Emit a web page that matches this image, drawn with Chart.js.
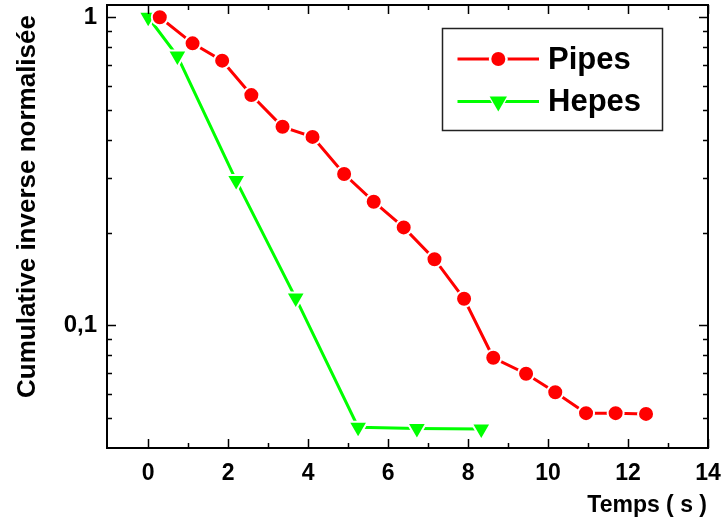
<!DOCTYPE html>
<html>
<head>
<meta charset="utf-8">
<script src="https://cdn.jsdelivr.net/npm/chart.js@4.4.1/dist/chart.umd.min.js"></script>
<style>
html,body{margin:0;padding:0;background:#fff;}
canvas{display:block;}
</style>
</head>
<body>
<canvas id="c" width="724" height="525"></canvas>
<script>
// ---- data ----
const pipesX = [0.29, 1.11, 1.85, 2.58, 3.36, 4.11, 4.9, 5.64, 6.39, 7.16, 7.9, 8.63, 9.45, 10.18, 10.95, 11.69, 12.45];
const pipesY = [1.0, 0.823, 0.723, 0.559, 0.441, 0.409, 0.31, 0.252, 0.208, 0.164, 0.122, 0.0785, 0.0697, 0.0607, 0.0519, 0.0519, 0.0516];
const hepesX = [0.0, 0.73, 2.2, 3.69, 5.25, 6.72, 8.33];
const hepesY = [1.0, 0.748, 0.295, 0.1226, 0.0467, 0.0463, 0.0461];
const xTicks = [0, 2, 4, 6, 8, 10, 12, 14];
const xMinorTicks = [1, 3, 5, 7, 9, 11, 13];
const yTicks = [0.1, 1];
const yMinorTicks = [0.05, 0.06, 0.07, 0.08, 0.09, 0.2, 0.3, 0.4, 0.5, 0.6, 0.7, 0.8, 0.9];
const seriesNames = ['Pipes', 'Hepes'];
const xTitle = 'Temps ( s )';
const yTitle = 'Cumulative inverse normalisée';

const FONT = '"Liberation Sans", Arial, sans-serif';

const toPts = (xs, ys) => xs.map((x, i) => ({x: x, y: ys[i]}));

const framePlugin = {
  id: 'frame',
  afterDraw(chart) {
    const ctx = chart.ctx;
    const a = chart.chartArea;
    const xs = chart.scales.x, ys = chart.scales.y;
    ctx.save();
    ctx.strokeStyle = '#000';
    ctx.lineWidth = 2;
    ctx.strokeRect(a.left, a.top, a.right - a.left, a.bottom - a.top);
    ctx.lineWidth = 1.5;
    const tick = (vals, len, horiz) => {
      vals.forEach(v => {
        if (horiz) {
          const px = Math.round(xs.getPixelForValue(v)) + 0.5;
          ctx.beginPath();
          ctx.moveTo(px, a.bottom); ctx.lineTo(px, a.bottom - len);
          ctx.moveTo(px, a.top); ctx.lineTo(px, a.top + len);
          ctx.stroke();
        } else {
          const py = Math.round(ys.getPixelForValue(v)) + 0.5;
          ctx.beginPath();
          ctx.moveTo(a.left, py); ctx.lineTo(a.left + len, py);
          ctx.moveTo(a.right, py); ctx.lineTo(a.right - len, py);
          ctx.stroke();
        }
      });
    };
    tick(xTicks, 9, true);
    tick(xMinorTicks, 5, true);
    tick(yTicks, 9, false);
    tick(yMinorTicks, 5, false);

    // axis titles
    ctx.fillStyle = '#000';
    ctx.font = 'bold 23px ' + FONT;
    ctx.textAlign = 'right';
    ctx.textBaseline = 'alphabetic';
    ctx.fillText(xTitle, 707, 512);

    ctx.save();
    ctx.translate(35, 206.5);
    ctx.rotate(-Math.PI / 2);
    ctx.font = 'bold 26px ' + FONT;
    ctx.textAlign = 'center';
    ctx.fillText(yTitle, 0, 0);
    ctx.restore();

    // legend
    const bx = 442.5, by = 28.5, bw = 220, bh = 102;
    ctx.fillStyle = '#fff';
    ctx.fillRect(bx, by, bw, bh);
    ctx.strokeStyle = '#222';
    ctx.lineWidth = 1.5;
    ctx.strokeRect(bx, by, bw, bh);
    const rowsY = [59, 101.5];
    chart.data.datasets.forEach((ds, i) => {
      const y = rowsY[i];
      ctx.strokeStyle = ds.borderColor;
      ctx.lineWidth = 3;
      ctx.beginPath();
      ctx.moveTo(457.5, y); ctx.lineTo(539, y);
      ctx.stroke();
      ctx.fillStyle = '#fff';
      Chart.helpers.drawPoint(ctx, {
        pointStyle: ds.pointStyle, rotation: ds.pointRotation || 0,
        radius: ds.pointRadius + 1.5, borderWidth: 0
      }, 498.3, y);
      ctx.fillStyle = ds.pointBackgroundColor;
      ctx.strokeStyle = ds.pointBackgroundColor;
      Chart.helpers.drawPoint(ctx, {
        pointStyle: ds.pointStyle, rotation: ds.pointRotation || 0,
        radius: ds.pointRadius - 1, borderWidth: 0
      }, 498.3, y);
      ctx.fillStyle = '#000';
      ctx.font = 'bold 31px ' + FONT;
      ctx.textAlign = 'left';
      ctx.textBaseline = 'middle';
      ctx.fillText(seriesNames[i], 548, y + 1);
    });
    ctx.restore();
  }
};

new Chart(document.getElementById('c'), {
  type: 'line',
  data: {
    datasets: [
      {
        label: seriesNames[0],
        data: toPts(pipesX, pipesY),
        borderColor: '#ff0000',
        borderWidth: 3,
        pointStyle: 'circle',
        pointRadius: 8,
        pointBackgroundColor: '#ff0000',
        pointBorderColor: '#ffffff',
        pointBorderWidth: 2,
        pointHoverRadius: 8,
        tension: 0,
        fill: false,
        clip: false
      },
      {
        label: seriesNames[1],
        data: toPts(hepesX, hepesY),
        borderColor: '#00ff00',
        borderWidth: 3,
        pointStyle: 'triangle',
        pointRotation: 180,
        pointRadius: 11,
        pointBackgroundColor: '#00ff00',
        pointBorderColor: '#ffffff',
        pointBorderWidth: 2,
        pointHoverRadius: 11,
        tension: 0,
        fill: false,
        clip: false
      }
    ]
  },
  options: {
    responsive: false,
    animation: false,
    devicePixelRatio: 1,
    layout: {autoPadding: false, padding: {top: 5, right: 16, left: 0, bottom: 0}},
    plugins: {legend: {display: false}, tooltip: {enabled: false}},
    scales: {
      x: {
        type: 'linear',
        min: -1.03,
        max: 14,
        grid: {display: false, drawTicks: false},
        border: {display: false},
        afterBuildTicks: s => { s.ticks = xTicks.map(v => ({value: v})); },
        afterFit: s => { s.height = 77; s.paddingLeft = 0; s.paddingRight = 0; s.paddingTop = 0; s.paddingBottom = 0; },
        ticks: {
          color: '#000',
          padding: 12,
          maxRotation: 0,
          autoSkip: false,
          font: {family: FONT, size: 23, weight: 'bold'},
          callback: v => String(v)
        }
      },
      y: {
        type: 'logarithmic',
        min: 0.04,
        max: 1.096,
        grid: {display: false, drawTicks: false},
        border: {display: false},
        afterBuildTicks: s => { s.ticks = yTicks.map(v => ({value: v})); },
        afterFit: s => { s.width = 107; s.paddingTop = 0; s.paddingBottom = 0; s.paddingLeft = 0; s.paddingRight = 0; },
        ticks: {
          color: '#000',
          padding: 10,
          autoSkip: false,
          font: {family: FONT, size: 24, weight: 'bold'},
          callback: v => String(v).replace('.', ',')
        }
      }
    }
  },
  plugins: [framePlugin]
});
</script>
</body>
</html>
